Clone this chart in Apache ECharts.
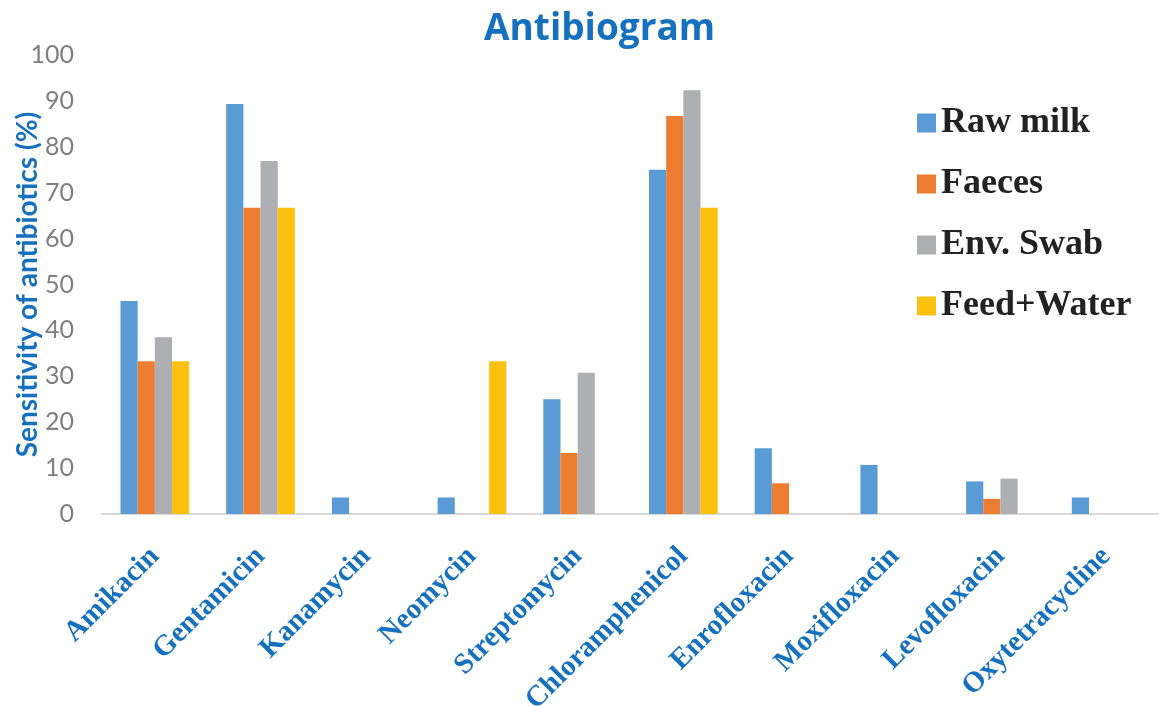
<!DOCTYPE html>
<html>
<head>
<meta charset="utf-8">
<script src="https://cdn.jsdelivr.net/npm/echarts@6/dist/echarts.min.js"></script>
<style>
html,body{margin:0;padding:0;background:#fff;}
#chart{width:1159px;height:706px;}
</style>
</head>
<body>
<div id="chart"></div>
<script>
const categories = ['Amikacin','Gentamicin','Kanamycin','Neomycin','Streptomycin','Chloramphenicol','Enrofloxacin','Moxifloxacin','Levofloxacin','Oxytetracycline'];
const rawMilk   = [46.4, 89.3, 3.6, 3.6, 25.0, 75.0, 14.3, 10.7, 7.1, 3.6];
const faeces    = [33.3, 66.7, 0, 0, 13.3, 86.7, 6.7, 0, 3.3, 0];
const envSwab   = [38.5, 76.9, 0, 0, 30.8, 92.3, 0, 0, 7.7, 0];
const feedWater = [33.3, 66.7, 0, 33.3, 0, 66.7, 0, 0, 0, 0];
const seriesNames = ['Raw milk','Faeces','Env. Swab','Feed+Water'];
const colors = ['#5B9BD5','#ED7D31','#AEAFB3','#FCC00F'];
const yTicks = {min: 0, max: 100, interval: 10};

const chart = echarts.init(document.getElementById('chart'));
const dataSets = [rawMilk, faeces, envSwab, feedWater];
chart.setOption({
  animation: false,
  color: colors,
  title: {
    text: 'Antibiogram',
    left: 479, top: 6,
    textStyle: {fontFamily: 'Open Sans', fontWeight: 'bold', fontSize: 37, color: '#1570BE'}
  },
  legend: {
    orient: 'vertical',
    left: 912, top: 100,
    itemWidth: 19, itemHeight: 19,
    itemGap: 25,
    icon: 'rect',
    textStyle: {fontFamily: 'Liberation Serif', fontWeight: 'bold', fontSize: 36, color: '#222'},
    data: seriesNames
  },
  grid: {left: 102, right: 0, top: 55, bottom: 192, containLabel: false, outerBoundsMode: 'none'},
  xAxis: {
    type: 'category',
    data: categories,
    axisLine: {lineStyle: {color: '#D9D9D9', width: 2}},
    axisTick: {show: false},
    axisLabel: {
      interval: 0, rotate: 45, margin: 38,
      fontFamily: 'Liberation Serif', fontWeight: 'bold', fontSize: 29, color: '#1570BE'
    }
  },
  yAxis: {
    type: 'value',
    min: yTicks.min, max: yTicks.max, interval: yTicks.interval,
    name: 'Sensitivity of antibiotics (%)',
    nameLocation: 'middle', nameGap: 60,
    nameMoveOverlap: false,
    nameTextStyle: {fontFamily: 'Lato', fontWeight: 'bold', fontSize: 28, color: '#1570BE'},
    axisLine: {show: false},
    axisTick: {show: false},
    splitLine: {show: false},
    axisLabel: {fontFamily: 'Lato', fontSize: 25, color: '#7F7F7F', margin: 28}
  },
  series: dataSets.map((d, i) => ({
    name: seriesNames[i],
    type: 'bar',
    data: d,
    barGap: '0%',
    barCategoryGap: '35%',
    itemStyle: {color: colors[i]}
  }))
});
</script>
</body>
</html>
